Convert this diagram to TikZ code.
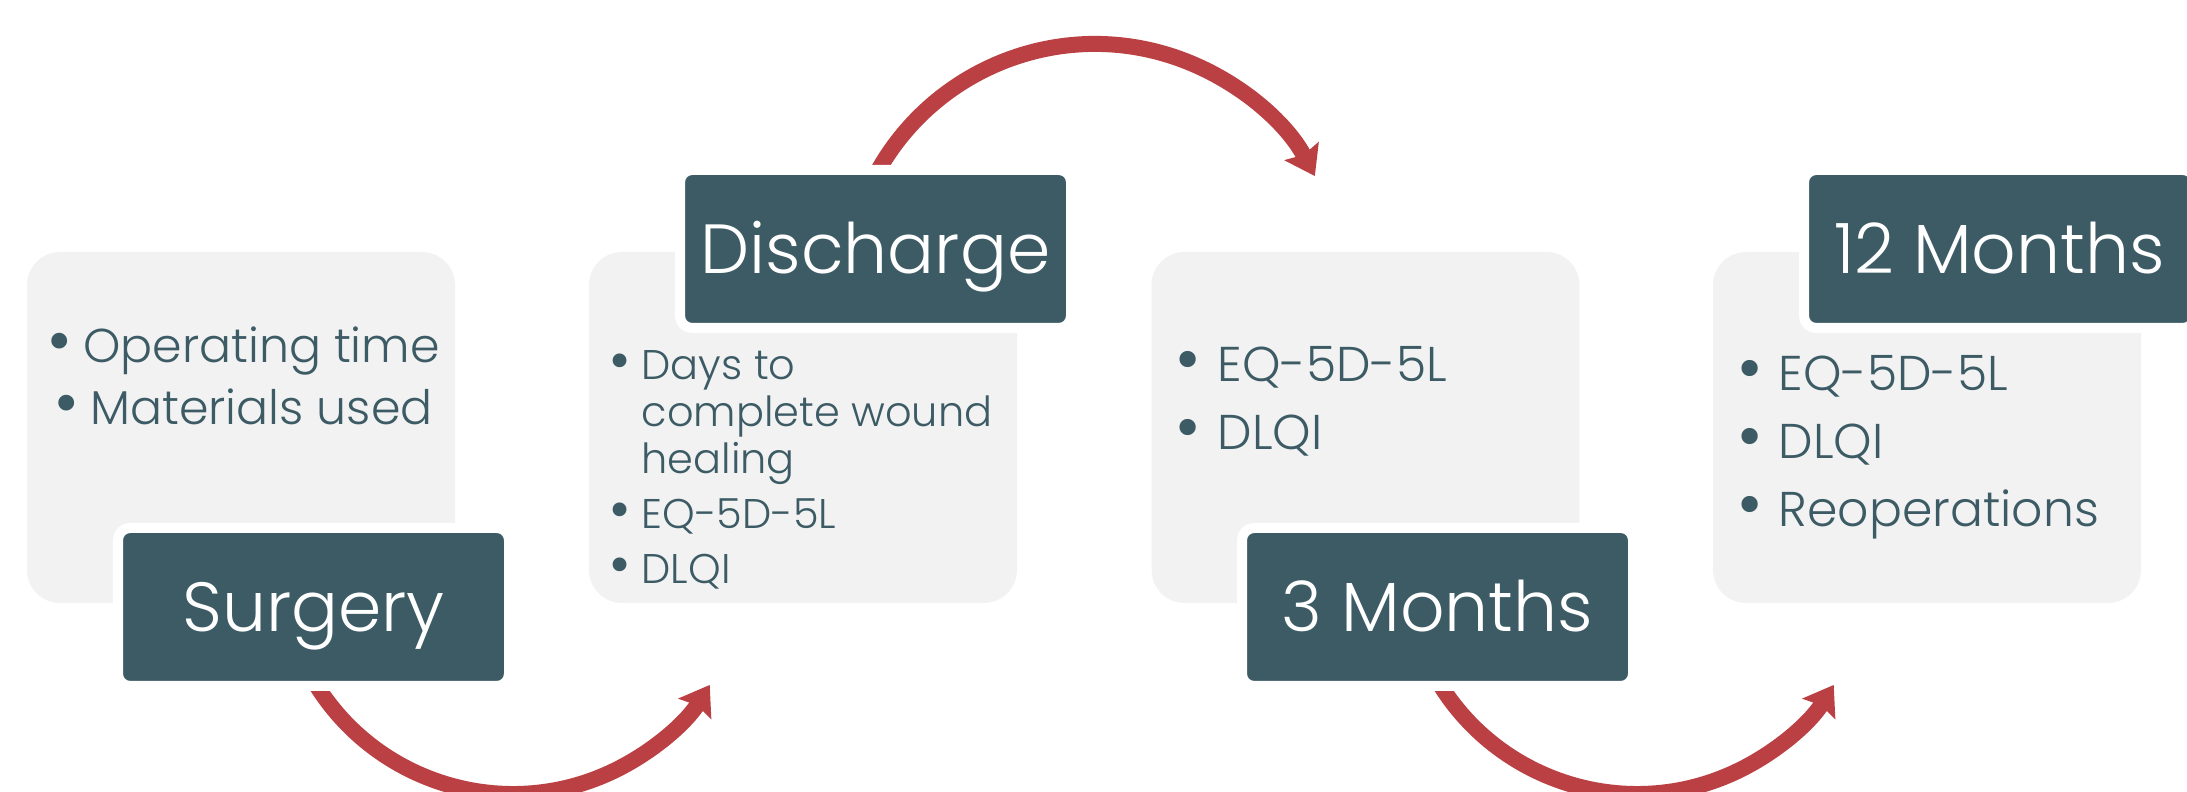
\documentclass[tikz,border=0pt]{standalone}
\usepackage{fontspec}
\setmainfont{Poppins}[UprightFont={* Light}]
\newfontfamily\bulletfont{Poppins}
\usetikzlibrary{arrows.meta,calc}
\definecolor{slate}{RGB}{60,91,101}
\definecolor{panelgray}{RGB}{242,242,242}
\definecolor{arrowred}{RGB}{187,64,67}
\newcommand{\bul}[1]{\makebox[#1][l]{\scalebox{1.35}{\bulletfont •}}}

\begin{document}
\begin{tikzpicture}[card/.style={fill=panelgray,rounded corners=0.33cm,minimum width=4.28cm,minimum height=3.51cm,inner sep=0pt},stage/.style={fill=slate,draw=white,line width=0.1cm,rounded corners=0.12cm,minimum width=3.91cm,minimum height=1.58cm,inner sep=0pt,text=white,font=\fontsize{19.8}{24}\selectfont,text height=0.50cm,text depth=0pt},bullets/.style={text=slate,align=left,anchor=base west,inner sep=0pt,font=\fontsize{13.9}{19.5}\selectfont},arrow/.style={arrowred,line width=0.16cm,-{Stealth[length=0.28cm,width=0.38cm,inset=0.04cm]}}]
\useasboundingbox (0,0) rectangle (21.87,7.92);
\node[card] (c1) at (2.41,3.645) {}; \node[card] (c2) at (8.03,3.645) {}; \node[card] (c3) at (13.655,3.645) {}; \node[card] (c4) at (19.27,3.645) {};
% lists are placed by the baseline of their last line
\node[bullets,align=center,anchor=base,font=\fontsize{13.5}{17.9}\selectfont] (l1) at (2.43,3.67) {\bul{0.37cm}Operating time\\\bul{0.37cm}Materials used};
\node[bullets,font=\fontsize{11.8}{13.4}\selectfont] (l2) at (6.08,2.08) {\bul{0.33cm}Days to\\\hspace{0.33cm}complete wound\\\hspace{0.33cm}healing\\[2.3pt]\bul{0.33cm}EQ-5D-5L\\[2.3pt]\bul{0.33cm}DLQI};
\node[bullets] (l3) at (11.74,3.42) {\bul{0.43cm}EQ-5D-5L\\\bul{0.43cm}DLQI};
\node[bullets,font=\fontsize{13.9}{19.4}\selectfont] (l4) at (17.36,2.65) {\bul{0.42cm}EQ-5D-5L\\\bul{0.42cm}DLQI\\\bul{0.42cm}Reoperations};
% arcs start under the stage boxes
\coordinate (a1) at (5.13,2.30); \coordinate (a2) at (10.95,4.99); \coordinate (a3) at (16.37,2.30);
\draw[arrow] ([shift={(-155:2.32)}]a1) arc[start angle=-155,end angle=-32,radius=2.32];
\draw[arrow] ([shift={(160:2.49)}]a2) arc[start angle=160,end angle=28,radius=2.49];
\draw[arrow] ([shift={(-155:2.32)}]a3) arc[start angle=-155,end angle=-32,radius=2.32];
\node[stage] (surgery) at (3.135,1.85) {Surgery}; \node[stage] (discharge) at (8.755,5.43) {Discharge};
\node[stage] (three) at (14.375,1.85) {3 Months}; \node[stage] (twelve) at (19.995,5.43) {12 Months};
\end{tikzpicture}
\end{document}
